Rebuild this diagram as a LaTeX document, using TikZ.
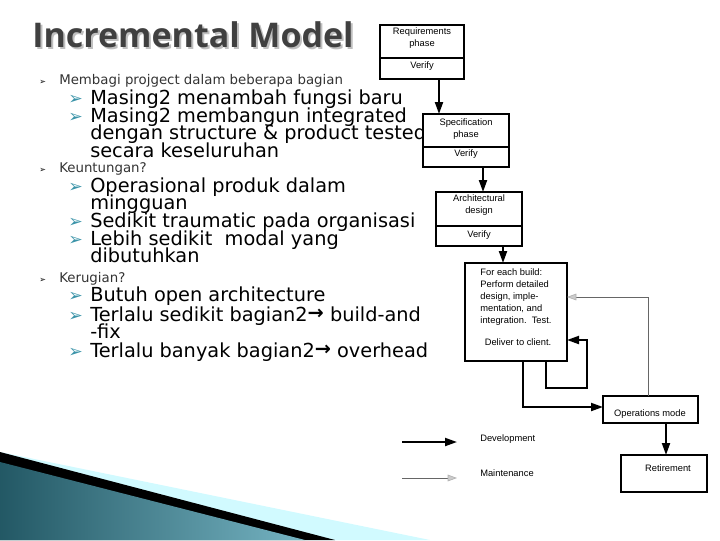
\documentclass[tikz,border=0pt]{standalone}
\usepackage{fontspec}
\setmainfont{DejaVu Sans}
\newfontfamily\boxf{Liberation Sans}
\newfontfamily\titlef{Open Sans}
\usetikzlibrary{arrows.meta}
\definecolor{teal2}{HTML}{3A93A8}
\definecolor{ttl}{HTML}{404040}
\begin{document}
\begin{tikzpicture}[x=0.75pt,y=-0.75pt,
  bx/.style={draw,line width=1.2pt},
  dev/.style={line width=1.5pt,-{Triangle[length=9pt,width=6pt]}},
  mnt/.style={line width=0.5pt,gray!80!black,-{Triangle[length=7pt,width=5pt,fill=gray!40,color=gray!60]}},
  bt/.style={font=\boxf\fontsize{7}{8.5}\selectfont,align=center,inner sep=0},
  lone/.style={anchor=base west,inner sep=0,font=\fontsize{10}{12}\selectfont\color{black!80}},
  ltwo/.style={anchor=base west,inner sep=0,font=\fontsize{14.5}{16}\selectfont}]
\useasboundingbox (0,0) rectangle (720,540);
% swoosh
\fill[blue!10!cyan!18] (0,452) -- (430,540) -- (0,540) -- cycle;
\fill[black] (0,452) -- (335,540) -- (0,540) -- cycle;
\shade[left color=teal2!60!black,right color=teal2!70!white] (0,462) -- (305,540) -- (0,540) -- cycle;
% title
\node[anchor=base west,inner sep=0,font=\titlef\bfseries\fontsize{25.5}{30}\selectfont,text=gray!50] (tsh) at (34,49) {Incremental Model};
\node[anchor=base west,inner sep=0,font=\titlef\bfseries\fontsize{25.5}{30}\selectfont,text=ttl] (title) at (32,47) {Incremental Model};
% bullets
\foreach \y/\t in {84/Membagi projgect dalam beberapa bagian,172/Keuntungan?,282/Kerugian?}{
  \node[anchor=base west,inner sep=0,font=\fontsize{6}{6}\selectfont] at (39,\y) {➢};
  \node[lone] at (59,\y) {\t};}
\foreach \y in {104,122,192,227,245,301,321,357}{
  \node[anchor=base west,inner sep=0,font=\fontsize{13}{13}\selectfont,text=teal2] at (68,\y) {➢};}
\node[ltwo] (a1) at (90,104) {Masing2 menambah fungsi baru};
\node[ltwo] (a2) at (90,122) {Masing2 membangun integrated};
\node[ltwo] (a3) at (90,139) {dengan structure \& product tested};
\node[ltwo] (a4) at (90,157) {secara keseluruhan};
\node[ltwo] (b1) at (90,192) {Operasional produk dalam};
\node[ltwo] (b2) at (90,209) {mingguan};
\node[ltwo] (b3) at (90,227) {Sedikit traumatic pada organisasi};
\node[ltwo] (b4) at (90,245) {Lebih sedikit\ \ modal yang};
\node[ltwo] (b5) at (90,262) {dibutuhkan};
\node[ltwo] (c1) at (90,301) {Butuh open architecture};
\node[ltwo] (c2) at (90,321) {Terlalu sedikit bagian2\raisebox{1pt}{\textbf{→}} build-and};
\node[ltwo] (c3) at (90,338) {-fix};
\node[ltwo] (c4) at (90,357) {Terlalu banyak bagian2\raisebox{1pt}{\textbf{→}} overhead};
% boxes
\fill[white] (423,114) rectangle (509,167);
\draw[bx] (380,25) rectangle (464,79); \draw[bx] (380,58) -- (464,58);
\node[bt] (req) at (422,38) {Requirements\\[1pt]phase};
\node[bt] (rv) at (422,66) {Verify};
\draw[bx] (423,114) rectangle (509,167); \draw[bx] (423,147) -- (509,147);
\node[bt] (spec) at (466,129) {Specification\\[1pt]phase};
\node[bt] (sv) at (466,154) {Verify};
\draw[bx] (436,192) rectangle (522,246); \draw[bx] (436,226) -- (522,226);
\node[bt] (arch) at (479,205) {Architectural\\[1pt]design};
\node[bt] (av) at (479,235) {Verify};
\draw[bx] (465,263) rectangle (567,361);
\node[bt,font=\boxf\fontsize{7}{9}\selectfont,align=left] (bld) at (516,297) {For each build:\\Perform detailed\\design, imple-\\mentation, and\\integration.\ \ Test.};
\node[bt] (dlv) at (518,342) {Deliver to client.};
\draw[bx] (603,396) rectangle (698,423);
\node[bt] (ops) at (650,414) {Operations mode};
\draw[bx] (621,455) rectangle (707,492);
\node[bt] (ret) at (668,468) {Retirement};
% arrows
\draw[dev] (439,79) -- (439,114);
\draw[dev] (483,167) -- (483,192);
\draw[dev] (503,246) -- (503,263);
\draw[dev] (546,361) -- (546,388) -- (587,388) -- (587,340) -- (567,340);
\draw[dev] (523,361) -- (523,407) -- (603,407);
\draw[dev] (666,423) -- (666,455);
\draw[mnt] (648,396) -- (648,297) -- (567,297);
% legend
\draw[dev] (402,442) -- (457,442);
\draw[mnt] (402,478) -- (457,478);
\node[bt,anchor=base west] (ldev) at (480,441) {Development};
\node[bt,anchor=base west] (lmnt) at (480,476) {Maintenance};
\end{tikzpicture}
\end{document}
